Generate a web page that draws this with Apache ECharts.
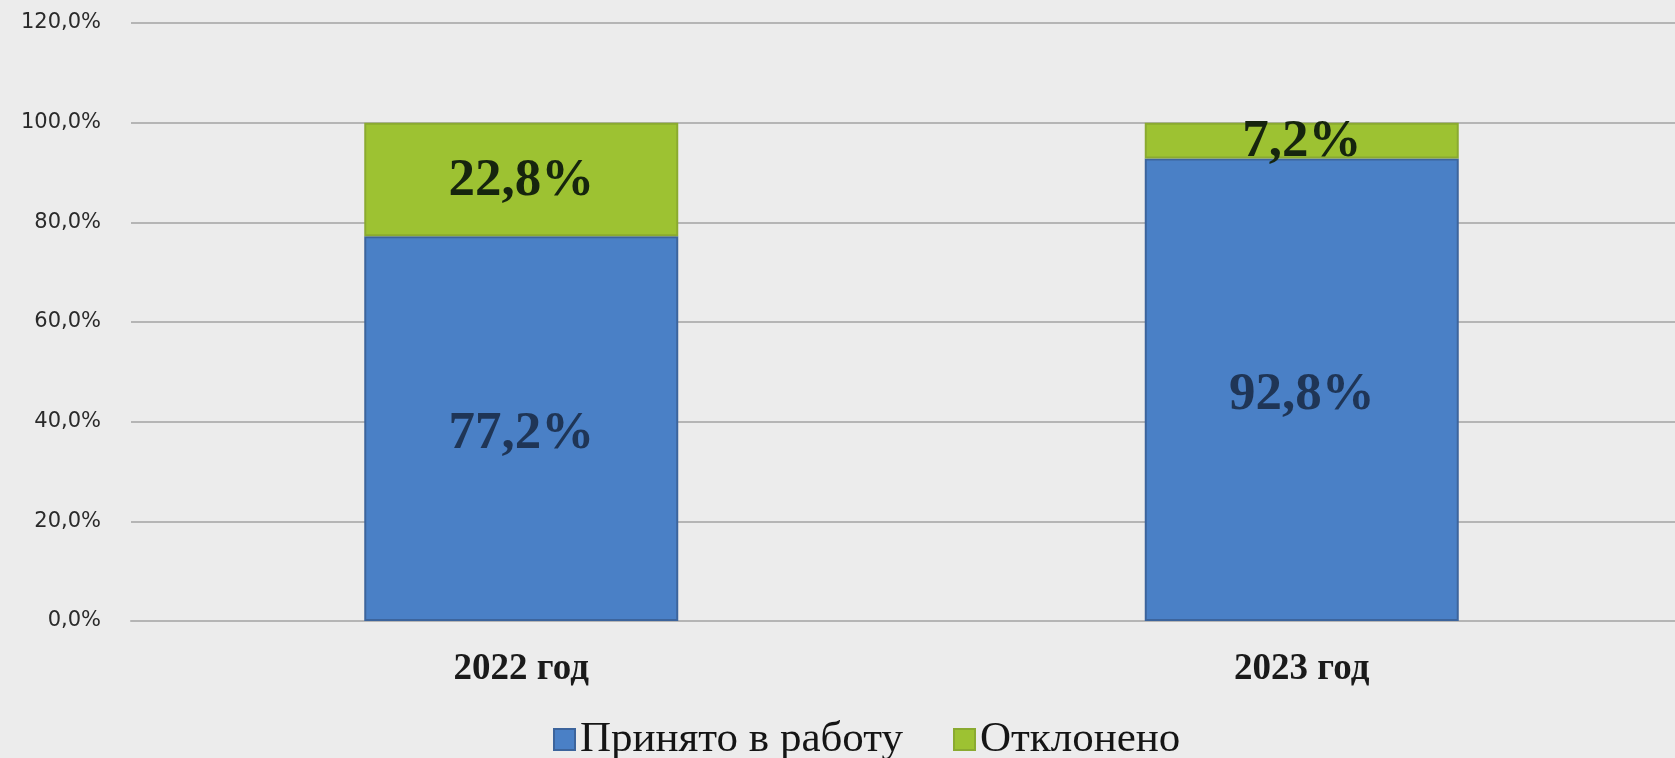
<!DOCTYPE html>
<html>
<head>
<meta charset="utf-8">
<script src="https://cdn.jsdelivr.net/npm/echarts@6/dist/echarts.min.js"></script>
<style>
  html, body { margin: 0; padding: 0; background: #ececec; }
  #dataView { width: 1675px; height: 758px; }
</style>
</head>
<body>
<div id="dataView"></div>
<script>
// 数据
var categories = ['2022 год', '2023 год'];
var accepted = [77.2, 92.8];
var rejected = [22.8, 7.2];
var seriesNames = ['Принято в работу', 'Отклонено'];

function pct(v) {
	return v.toFixed(1).replace('.', ',') + '%';
}

var dataViewcharts = echarts.init(document.getElementById('dataView'));
var dataViewoption = {
	backgroundColor: '#ececec',
	animation: false,
	grid: {
		left: 131,
		top: 23,
		width: 1561,
		height: 598,
		outerBoundsMode: 'none'
	},
	legend: {
		data: seriesNames,
		left: 548,
		top: 713,
		itemWidth: 21,
		itemHeight: 21,
		itemGap: 50,
		icon: 'rect',
		textStyle: {
			fontFamily: 'Liberation Serif',
			fontSize: 43,
			color: '#151515'
		}
	},
	xAxis: {
		type: 'category',
		data: categories,
		axisTick: { show: false },
		axisLine: { lineStyle: { color: '#b5b5b5', width: 2 } },
		axisLabel: {
			margin: 30,
			fontFamily: 'Liberation Serif',
			fontWeight: 'bold',
			fontSize: 37,
			color: '#1a1a1a'
		}
	},
	yAxis: {
		type: 'value',
		min: 0,
		max: 120,
		interval: 20,
		axisLine: { show: false },
		axisTick: { show: false },
		splitLine: { lineStyle: { color: '#b5b5b5', width: 2 } },
		axisLabel: {
			margin: 30,
			fontFamily: 'DejaVu Sans',
			fontSize: 21,
			color: '#2a2a2a',
			formatter: pct
		}
	},
	series: [
		{
			name: seriesNames[0],
			type: 'bar',
			stack: 'total',
			barWidth: 314,
			data: accepted,
			itemStyle: { color: '#4a80c6', borderColor: '#3c649c', borderWidth: 2 },
			label: {
				show: true,
				position: 'inside',
				offset: [0, 6],
				fontFamily: 'Liberation Serif',
				fontWeight: 'bold',
				fontSize: 53,
				color: '#1f3556',
				formatter: function (p) { return pct(p.value); }
			}
		},
		{
			name: seriesNames[1],
			type: 'bar',
			stack: 'total',
			barWidth: 314,
			data: rejected,
			itemStyle: { color: '#9dc232', borderColor: '#8aaa30', borderWidth: 2 },
			label: {
				show: true,
				position: 'inside',
				offset: [0, 2],
				fontFamily: 'Liberation Serif',
				fontWeight: 'bold',
				fontSize: 53,
				color: '#16250e',
				formatter: function (p) { return pct(p.value); }
			}
		}
	]
};
dataViewcharts.setOption(dataViewoption);
</script>
</body>
</html>
